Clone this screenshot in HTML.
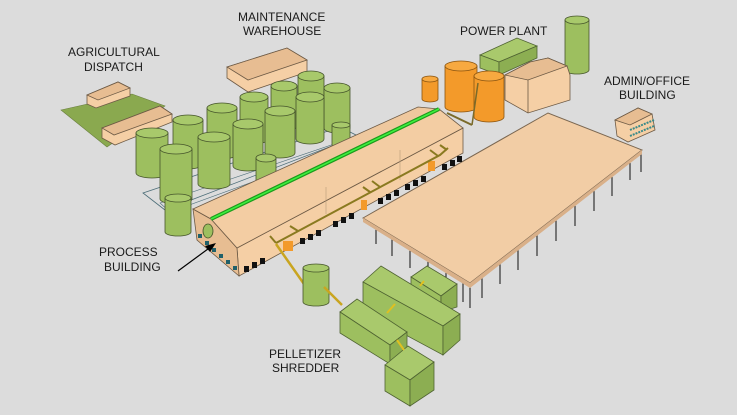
<!DOCTYPE html>
<html><head><meta charset="utf-8"><style>
html,body{margin:0;padding:0;background:#dcdcdc;}
svg{display:block}
text{font-family:"Liberation Sans",sans-serif;font-size:12px;fill:#1a1a1a;}
.t{fill:#9dbf5f;stroke:#46552c;stroke-width:.8}
.tt{fill:#a8c96b;stroke:#46552c;stroke-width:.8}
.b{fill:#f5cfa5;stroke:#6d5a45;stroke-width:.8}
.bd{fill:#e7bd92;stroke:#6d5a45;stroke-width:.8}
.o{fill:#f39a2a;stroke:#8a5410;stroke-width:.8}
.ot{fill:#f7a940;stroke:#8a5410;stroke-width:.8}
.g{fill:#9dbf5f;stroke:#4f6332;stroke-width:.8}
.gd{fill:#8cae52;stroke:#4f6332;stroke-width:.8}
.gl{fill:#a9c96c;stroke:#4f6332;stroke-width:.8}
.w{fill:#111}
</style></head><body>
<svg width="737" height="415" viewBox="0 0 737 415" xmlns="http://www.w3.org/2000/svg">
<rect width="737" height="415" fill="#dcdcdc"/>
<!-- labels -->
<text x="238" y="21">MAINTENANCE</text><text x="243" y="35">WAREHOUSE</text>
<text x="68" y="56">AGRICULTURAL</text><text x="84" y="71">DISPATCH</text>
<text x="460" y="35">POWER PLANT</text>
<text x="604" y="85">ADMIN/OFFICE</text><text x="619" y="99">BUILDING</text>
<text x="461" y="188">FEEDSTOCK</text><text x="470" y="203">STORAGE</text>
<text x="99" y="256">PROCESS</text><text x="104" y="271">BUILDING</text>
<text x="269" y="358">PELLETIZER</text><text x="272" y="372">SHREDDER</text>

<!-- agricultural -->
<polygon points="61,110,132,94,165,106,107,147" fill="#8aa94f" stroke="#6a7f40" stroke-width=".6"/>
<polygon class="b" points="87,95,118,82,130,88,130,96,96,108,87,104"/>
<polygon class="bd" points="87,95,118,82,130,88,98,100"/>
<polygon class="b" points="102,128,160,106,172,114,172,122,115,145,102,138"/>
<polygon class="bd" points="102,128,160,106,172,114,114,135"/>
<!-- maintenance -->
<polygon class="b" points="227,67,287,48,307,60,307,72,248,92,227,78"/>
<polygon class="bd" points="227,67,287,48,307,60,248,80"/>
<!-- tank field outline -->
<polygon points="143,193,340,127,358,136,165,210" fill="none" stroke="#4c6d78" stroke-width=".8"/>
<polygon points="160,203,352,138,362,142,170,212" fill="none" stroke="#4c6d78" stroke-width=".6"/>
<!-- tanks (back to front) -->
<path class="t" d="M298,76 v40 a13,5 0 0 0 26,0 v-40z"/><ellipse class="tt" cx="311" cy="76" rx="13" ry="5"/>
<path class="t" d="M271,86 v40 a13,5 0 0 0 26,0 v-40z"/><ellipse class="tt" cx="284" cy="86" rx="13" ry="5"/>
<path class="t" d="M324,88 v40 a13,5 0 0 0 26,0 v-40z"/><ellipse class="tt" cx="337" cy="88" rx="13" ry="5"/>
<path class="t" d="M240,97 v42 a14,5 0 0 0 28,0 v-42z"/><ellipse class="tt" cx="254" cy="97" rx="14" ry="5"/>
<path class="t" d="M296,97 v42 a14,5 0 0 0 28,0 v-42z"/><ellipse class="tt" cx="310" cy="97" rx="14" ry="5"/>
<path class="t" d="M207,108 v46 a15,5 0 0 0 30,0 v-46z"/><ellipse class="tt" cx="222" cy="108" rx="15" ry="5"/>
<path class="t" d="M265,111 v42 a15,5 0 0 0 30,0 v-42z"/><ellipse class="tt" cx="280" cy="111" rx="15" ry="5"/>
<path class="t" d="M173,120 v44 a15,5 0 0 0 30,0 v-44z"/><ellipse class="tt" cx="188" cy="120" rx="15" ry="5"/>
<path class="t" d="M233,124 v42 a15,5 0 0 0 30,0 v-42z"/><ellipse class="tt" cx="248" cy="124" rx="15" ry="5"/>
<path class="t" d="M332,125 v20 a9,3 0 0 0 18,0 v-20z"/><ellipse class="tt" cx="341" cy="125" rx="9" ry="3"/>
<path class="t" d="M136,133 v40 a16,5 0 0 0 32,0 v-40z"/><ellipse class="tt" cx="152" cy="133" rx="16" ry="5"/>
<path class="t" d="M198,137 v47 a16,5 0 0 0 32,0 v-47z"/><ellipse class="tt" cx="214" cy="137" rx="16" ry="5"/>
<path class="t" d="M160,149 v50 a16,5 0 0 0 32,0 v-50z"/><ellipse class="tt" cx="176" cy="149" rx="16" ry="5"/>
<path class="t" d="M256,158 v24 a10,4 0 0 0 20,0 v-24z"/><ellipse class="tt" cx="266" cy="158" rx="10" ry="4"/>
<path class="t" d="M165,198 v34 a13,4 0 0 0 26,0 v-34z"/><ellipse class="tt" cx="178" cy="198" rx="13" ry="4"/>

<!-- power plant -->
<path class="t" d="M565,20 v50 a12,4 0 0 0 24,0 v-50z"/><ellipse class="tt" cx="577" cy="20" rx="12" ry="4"/>
<polygon class="gl" points="480,55,517,38,537,46,499,62"/>
<polygon class="g" points="480,55,499,62,499,75,480,68"/>
<polygon class="gd" points="499,62,537,46,537,58,499,75"/>
<polygon class="b" points="548,58,567,66,567,80,552,90"/>
<polygon class="b" points="505,75,530,62,548,58,567,66,570,75,570,100,528,113,505,100"/>
<polygon class="bd" points="505,75,530,62,548,58,567,66,528,80"/>
<line x1="528" y1="80" x2="528" y2="113" stroke="#6d5a45" stroke-width=".8"/>
<path class="o" d="M422,79 v20 a8,3 0 0 0 16,0 v-20z"/><ellipse class="ot" cx="430" cy="79" rx="8" ry="3"/>
<path class="o" d="M445,66 v41 a16,5 0 0 0 32,0 v-41z"/><ellipse class="ot" cx="461" cy="66" rx="16" ry="5"/>
<path class="o" d="M474,76 v41 a15,5 0 0 0 30,0 v-41z"/><ellipse class="ot" cx="489" cy="76" rx="15" ry="5"/>
<line x1="447" y1="113" x2="472" y2="125" stroke="#7a6a2a" stroke-width="2"/>
<line x1="472" y1="125" x2="478" y2="83" stroke="#7a6a2a" stroke-width="1.5"/>

<!-- admin -->
<polygon class="b" points="615,120,638,108,652,114,655,130,628,142,617,136"/>
<polygon class="bd" points="615,120,638,108,652,114,630,125"/>
<line x1="630" y1="130" x2="654" y2="120" stroke="#3a8a8a" stroke-width="2" stroke-dasharray="2,1"/>
<line x1="630" y1="136" x2="654" y2="126" stroke="#3a8a8a" stroke-width="2" stroke-dasharray="2,1"/>

<!-- feedstock storage legs -->
<g stroke="#111" stroke-width="1">
<line x1="376" y1="226" x2="376" y2="244"/><line x1="392" y1="236" x2="392" y2="256"/><line x1="410" y1="247" x2="410" y2="268"/>
<line x1="428" y1="258" x2="428" y2="280"/><line x1="446" y1="269" x2="446" y2="292"/><line x1="463" y1="279" x2="463" y2="302"/>
<line x1="482" y1="274" x2="482" y2="298"/><line x1="500" y1="260" x2="500" y2="284"/><line x1="518" y1="246" x2="518" y2="270"/>
<line x1="537" y1="232" x2="537" y2="256"/><line x1="556" y1="217" x2="556" y2="241"/><line x1="575" y1="203" x2="575" y2="226"/>
<line x1="594" y1="188" x2="594" y2="211"/><line x1="612" y1="174" x2="612" y2="196"/><line x1="630" y1="160" x2="630" y2="180"/>
<line x1="470" y1="285" x2="470" y2="308"/><line x1="641" y1="152" x2="641" y2="172"/>
</g>
<polygon points="363,218,548,113,642,150,470,283" fill="#f2cda5" stroke="#7a6650" stroke-width="1"/>
<polygon points="363,218,470,283,642,150,642,154,470,288,363,222" fill="#d9b089"/>

<!-- process building -->
<polygon class="b" points="237,248,463,128,463,153,239,276"/>
<polygon class="bd" points="193,209,211,219,237,248,239,276,197,240"/>
<polygon fill="#efc89e" stroke="#6d5a45" stroke-width=".8" points="193,209,418,107,439,109,211,219"/>
<polygon fill="#f3cda3" stroke="#6d5a45" stroke-width=".8" points="211,219,439,109,463,128,237,248"/>
<line x1="211" y1="219" x2="439" y2="109" stroke="#1c9a1c" stroke-width="4"/>
<line x1="211" y1="219" x2="439" y2="109" stroke="#3ef03e" stroke-width="1.6"/>
<g stroke="#b89a78" stroke-width=".6"><line x1="326" y1="187" x2="326" y2="214"/><line x1="400" y1="150" x2="400" y2="180"/></g>
<!-- windows -->
<g class="w">
<rect x="244" y="266" width="5" height="6"/><rect x="252" y="262" width="5" height="6"/><rect x="260" y="258" width="5" height="6"/>
<rect x="300" y="238" width="5" height="6"/><rect x="308" y="234" width="5" height="6"/><rect x="316" y="230" width="5" height="6"/>
<rect x="333" y="221" width="5" height="6"/><rect x="341" y="217" width="5" height="6"/><rect x="349" y="213" width="5" height="6"/>
<rect x="378" y="198" width="5" height="6"/><rect x="386" y="194" width="5" height="6"/><rect x="394" y="190" width="5" height="6"/>
<rect x="405" y="184" width="5" height="6"/><rect x="413" y="180" width="5" height="6"/><rect x="421" y="176" width="5" height="6"/>
<rect x="442" y="164" width="5" height="6"/><rect x="450" y="160" width="5" height="6"/><rect x="457" y="156" width="5" height="6"/>
</g>
<g fill="#f39a2a"><rect x="283" y="241" width="10" height="10"/><rect x="361" y="200" width="6" height="10"/><rect x="428" y="161" width="7" height="10"/></g>
<g fill="#20606a"><rect x="198" y="234" width="4" height="4"/><rect x="205" y="241" width="4" height="4"/><rect x="212" y="248" width="4" height="4"/><rect x="219" y="254" width="4" height="4"/><rect x="226" y="260" width="4" height="4"/><rect x="233" y="266" width="4" height="4"/></g>
<ellipse cx="208" cy="231" rx="5" ry="7" fill="#9dbf5f" stroke="#46552c" stroke-width=".8"/>
<g stroke="#8a7a20" stroke-width="2" fill="none">
<polyline points="276,243 440,155 448,148"/>
<line x1="276" y1="243" x2="270" y2="236"/><line x1="298" y1="231" x2="290" y2="226"/><line x1="370" y1="192" x2="363" y2="187"/><line x1="380" y1="187" x2="372" y2="181"/><line x1="438" y1="156" x2="430" y2="150"/><line x1="447" y1="150" x2="440" y2="145"/>
</g>
<!-- arrow -->
<line x1="178" y1="271" x2="212" y2="246" stroke="#000" stroke-width="1.2"/>
<polygon points="216,243,205,246,210,252" fill="#000"/>

<!-- pellet line -->
<line x1="276" y1="244" x2="304" y2="284" stroke="#c9a520" stroke-width="2.5"/>
<path class="t" d="M303,268 v34 a13,4 0 0 0 26,0 v-34z"/><ellipse class="tt" cx="316" cy="268" rx="13" ry="4"/>
<line x1="324" y1="287" x2="342" y2="305" stroke="#c9a520" stroke-width="2.5"/>
<!-- boxes -->
<polygon class="gl" points="411,277,427,266,457,284,441,296"/>
<polygon class="g" points="411,277,441,296,441,312,411,293"/>
<polygon class="gd" points="441,296,457,284,457,307,441,312"/>
<polygon class="gl" points="363,282,381,266,460,314,443,326"/>
<polygon class="g" points="363,282,443,326,443,355,363,312"/>
<polygon class="gd" points="443,326,460,314,460,340,443,355"/>
<polygon class="gl" points="340,312,357,299,407,332,390,345"/>
<polygon class="g" points="340,312,390,345,390,364,340,333"/>
<polygon class="gd" points="390,345,407,332,407,354,390,364"/>
<polygon class="gl" points="385,365,408,346,434,362,410,380"/>
<polygon class="g" points="385,365,410,380,410,406,385,391"/>
<polygon class="gd" points="410,380,434,362,434,390,410,406"/>
<g stroke="#e0c020" stroke-width="2"><line x1="387" y1="313" x2="395" y2="304"/><line x1="420" y1="286" x2="424" y2="281"/><line x1="397" y1="340" x2="404" y2="350"/></g>
</svg>
</body></html>
